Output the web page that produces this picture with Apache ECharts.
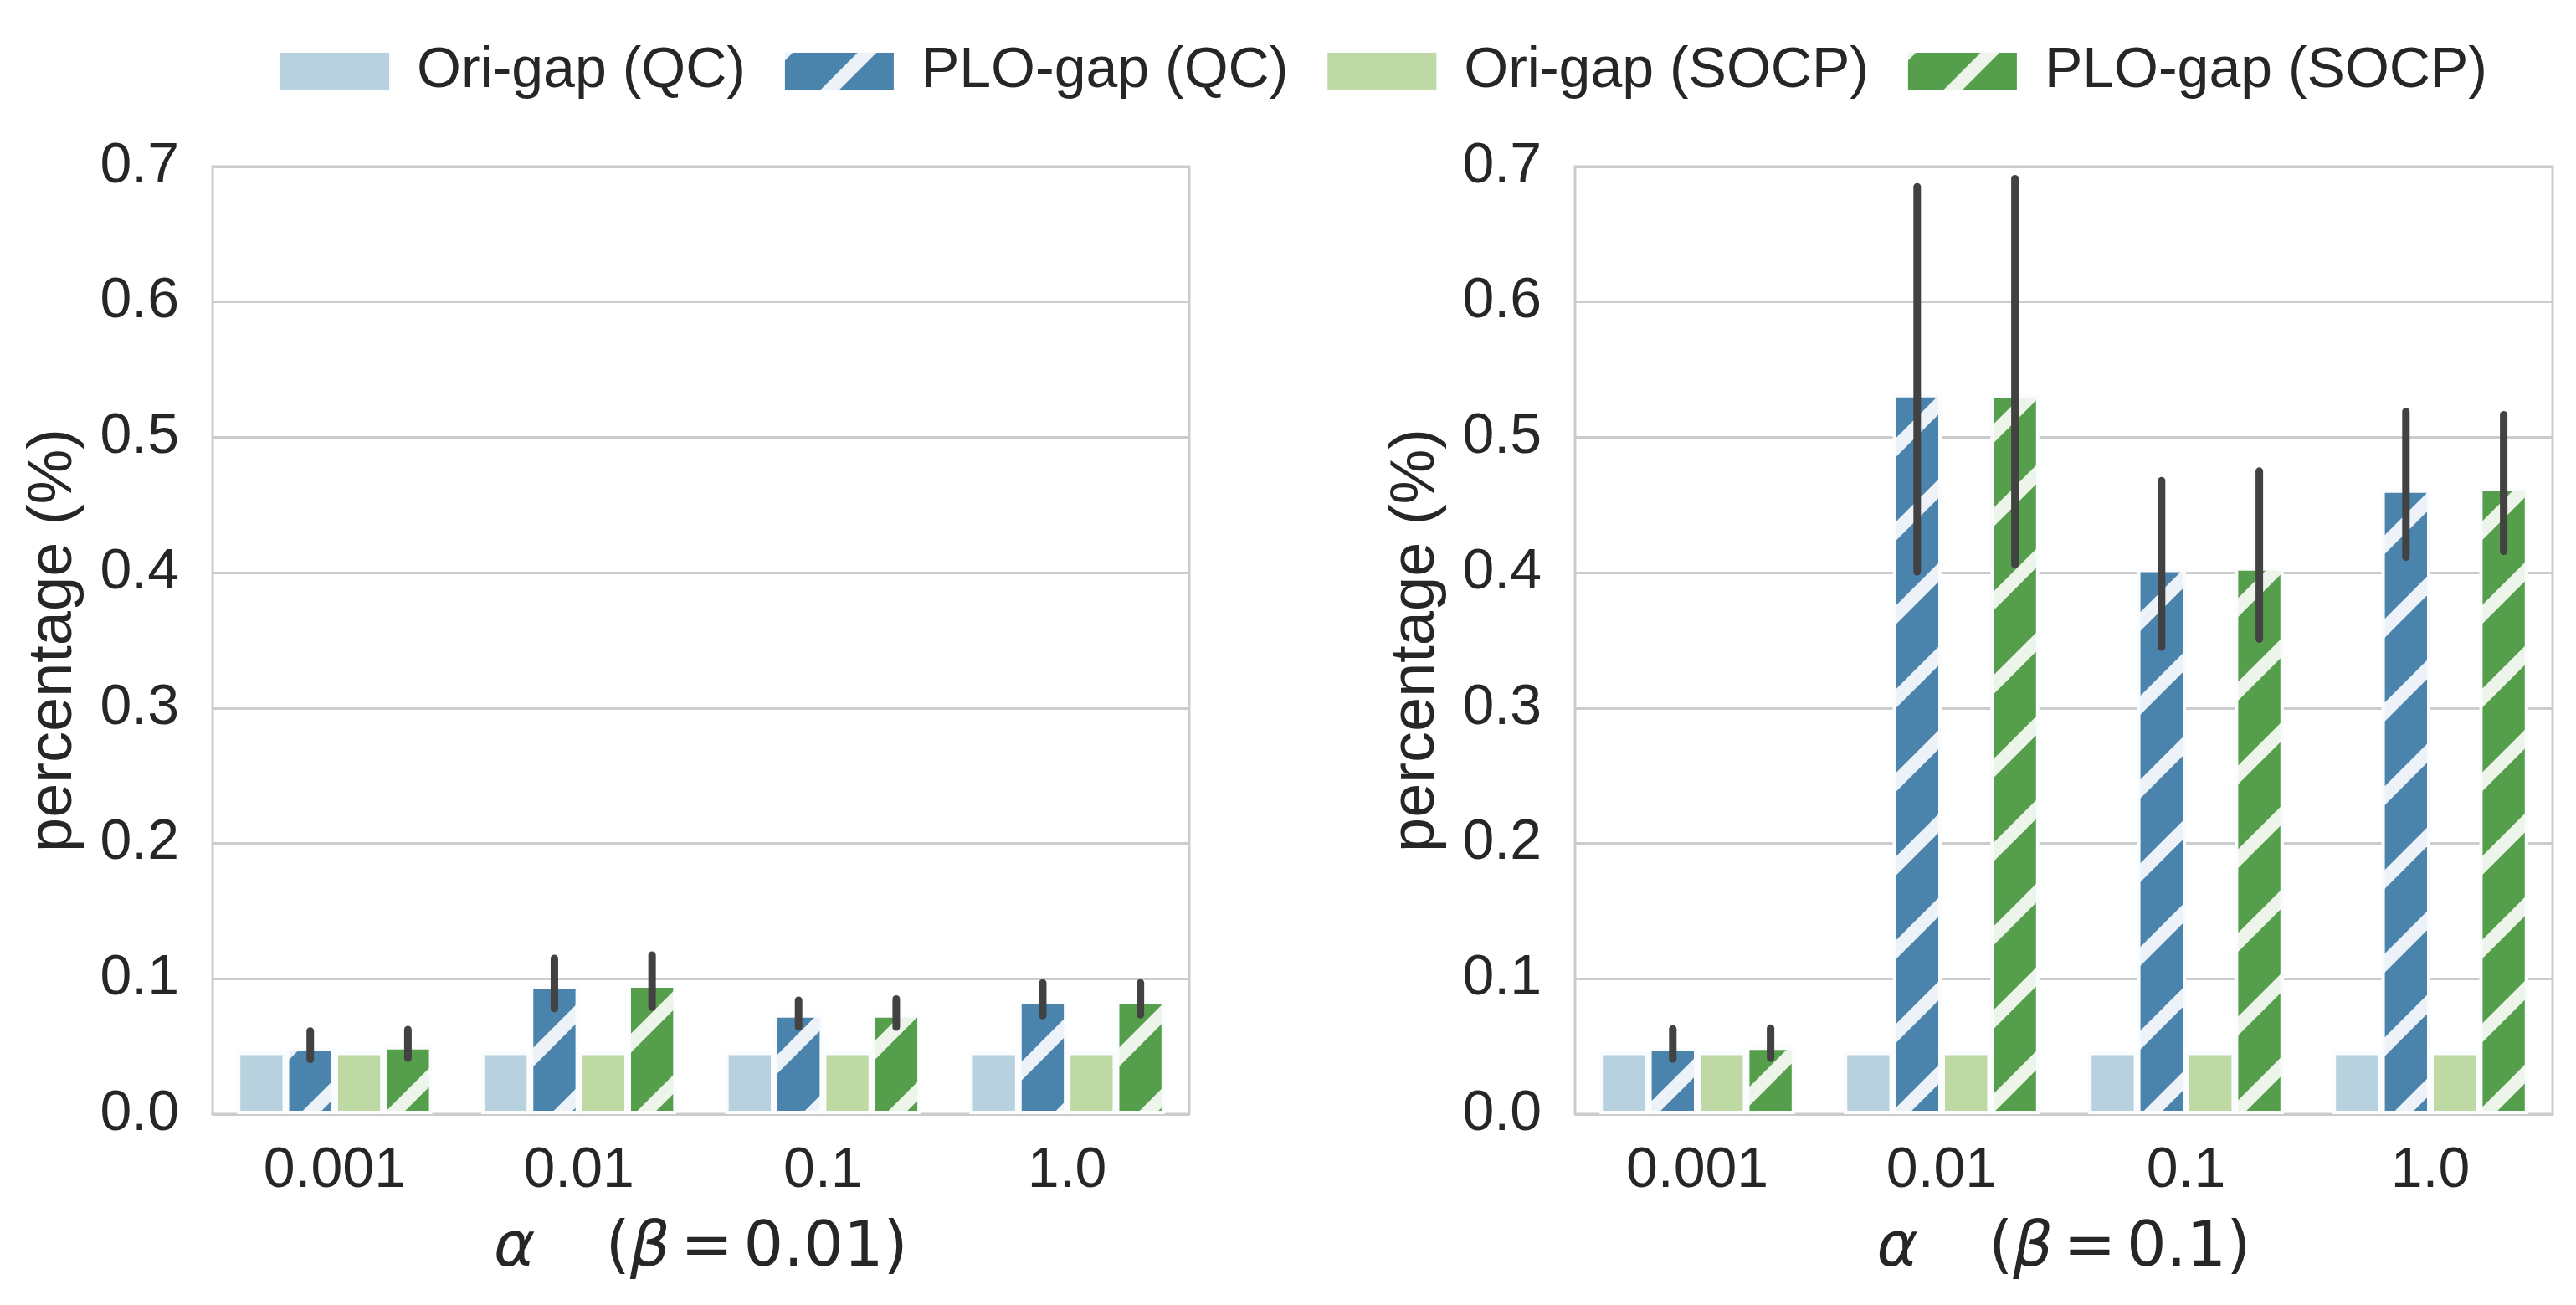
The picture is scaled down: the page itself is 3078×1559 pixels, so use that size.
<!DOCTYPE html>
<html>
<head>
<meta charset="utf-8">
<script src="https://cdn.jsdelivr.net/npm/echarts@6/dist/echarts.min.js"></script>
<style>
html,body{margin:0;padding:0;background:#fff;}
#chart{width:3078px;height:1559px;}
</style>
</head>
<body>
<div id="chart"></div>
<script>
// ---- data ----
const categories = ['0.001', '0.01', '0.1', '1.0'];
const seriesNames = ['Ori-gap (QC)', 'PLO-gap (QC)', 'Ori-gap (SOCP)', 'PLO-gap (SOCP)'];
const yTicks = [0, 0.1, 0.2, 0.3, 0.4, 0.5, 0.6, 0.7];

// beta = 0.01 (left panel)
const oriQC_b001 = [0.046, 0.046, 0.046, 0.046];
const ploQC_b001 = [0.0495, 0.0948, 0.0738, 0.0835];
const oriSOCP_b001 = [0.046, 0.046, 0.046, 0.046];
const ploSOCP_b001 = [0.0503, 0.0959, 0.0738, 0.0841];
const ploQC_err_b001 = [[0.0405, 0.0614], [0.078, 0.115], [0.0645, 0.0841], [0.0728, 0.097]];
const ploSOCP_err_b001 = [[0.0414, 0.0625], [0.079, 0.1175], [0.0643, 0.085], [0.0734, 0.097]];

// beta = 0.1 (right panel)
const oriQC_b01 = [0.046, 0.046, 0.046, 0.046];
const ploQC_b01 = [0.0495, 0.532, 0.4028, 0.4614];
const oriSOCP_b01 = [0.046, 0.046, 0.046, 0.046];
const ploSOCP_b01 = [0.050, 0.5315, 0.404, 0.463];
const ploQC_err_b01 = [[0.0408, 0.0629], [0.4006, 0.685], [0.345, 0.468], [0.4115, 0.519]];
const ploSOCP_err_b01 = [[0.0414, 0.0635], [0.406, 0.691], [0.351, 0.475], [0.4158, 0.5167]];

// ---- styles ----
const TXT = '#262626';
const FONT = "'Liberation Sans', Arial, sans-serif";
const MATH = "'DejaVu Sans', sans-serif";
const GRIDC = '#cccccc';

function makeHatch(bg, fg) {
  const c = document.createElement('canvas');
  c.width = 100; c.height = 100;
  const ctx = c.getContext('2d');
  ctx.fillStyle = bg; ctx.fillRect(0, 0, 100, 100);
  ctx.strokeStyle = fg; ctx.lineWidth = 16;
  for (const k of [0, 100, 200]) {
    ctx.beginPath();
    ctx.moveTo(k + 30, -30);
    ctx.lineTo(-30, k + 30);
    ctx.stroke();
  }
  return { image: c, repeat: 'repeat' };
}
const cOriQC = '#b7d2de';
const cPloQC = makeHatch('#4a84ad', '#ecf2f7');
const cOriSOCP = '#bed9a3';
const cPloSOCP = makeHatch('#559f4c', '#edf5ea');
const colors = [cOriQC, cPloQC, cOriSOCP, cPloSOCP];

const grids = [
  { left: 254, top: 199, width: 1167, height: 1132 },
  { left: 1882, top: 199, width: 1168, height: 1132 }
];

function xAxisFor(idx, betaText) {
  return {
    type: 'category', gridIndex: idx, data: categories,
    axisLine: { show: false }, axisTick: { show: false },
    axisLabel: { fontSize: 68, color: TXT, fontFamily: FONT, margin: 34 },
    name: '{i|α}   \u2006({i|β}\u2006=\u2006' + betaText + ')',
    nameLocation: 'middle', nameGap: 124,
    nameTextStyle: {
      fontSize: 75, color: TXT, fontFamily: MATH,
      rich: { i: { fontSize: 75, fontStyle: 'italic', color: TXT, fontFamily: MATH } }
    }
  };
}
function yAxisFor(idx) {
  return {
    type: 'value', gridIndex: idx, min: 0, max: 0.7, interval: 0.1,
    axisLine: { show: false }, axisTick: { show: false },
    axisLabel: { fontSize: 68, color: TXT, fontFamily: FONT, margin: 40, formatter: v => v.toFixed(1) },
    splitLine: { show: true, lineStyle: { color: GRIDC, width: 3 } },
    name: 'percentage (%)', nameLocation: 'middle', nameGap: 152, nameRotate: 90,
    nameTextStyle: { fontSize: 74, color: TXT, fontFamily: FONT }
  };
}

function barSeries(name, data, idx, color) {
  return {
    name: name, type: 'bar', xAxisIndex: idx, yAxisIndex: idx, data: data,
    barGap: '0%', barCategoryGap: '20%',
    itemStyle: { color: color, borderColor: '#fafcfd', borderWidth: 4 },
    emphasis: { disabled: true }
  };
}
function errSeries(idx, errs, slot) {
  return {
    name: 'err', type: 'custom', xAxisIndex: idx, yAxisIndex: idx, z: 10, clip: false,
    encode: { x: 0, y: [1, 2] },
    data: errs.map((e, i) => [i, e[0], e[1], slot]),
    renderItem: function (params, api) {
      const lo = api.coord([api.value(0), api.value(1)]);
      const hi = api.coord([api.value(0), api.value(2)]);
      const w = api.size([1, 0])[0];
      const x = lo[0] + (api.value(3) - 1.5) * 0.2 * w;
      return {
        type: 'line',
        shape: { x1: x, y1: hi[1], x2: x, y2: lo[1] },
        style: { stroke: '#424242', lineWidth: 9, lineCap: 'round' }
      };
    }
  };
}

const option = {
  backgroundColor: '#ffffff',
  animation: false,
  legend: {
    data: seriesNames, left: 328, top: 46, icon: 'rect',
    itemWidth: 132, itemHeight: 46, itemGap: 45,
    textStyle: { fontSize: 68, color: TXT, fontFamily: FONT, padding: [0, 0, 0, 27] }
  },
  grid: grids.map(g => Object.assign({ show: true, borderColor: GRIDC, borderWidth: 3, backgroundColor: 'transparent' }, g)),
  xAxis: [xAxisFor(0, '0.01'), xAxisFor(1, '0.1')],
  yAxis: [yAxisFor(0), yAxisFor(1)],
  series: [
    barSeries(seriesNames[0], oriQC_b001, 0, colors[0]),
    barSeries(seriesNames[1], ploQC_b001, 0, colors[1]),
    barSeries(seriesNames[2], oriSOCP_b001, 0, colors[2]),
    barSeries(seriesNames[3], ploSOCP_b001, 0, colors[3]),
    barSeries(seriesNames[0], oriQC_b01, 1, colors[0]),
    barSeries(seriesNames[1], ploQC_b01, 1, colors[1]),
    barSeries(seriesNames[2], oriSOCP_b01, 1, colors[2]),
    barSeries(seriesNames[3], ploSOCP_b01, 1, colors[3]),
    errSeries(0, ploQC_err_b001, 1),
    errSeries(0, ploSOCP_err_b001, 3),
    errSeries(1, ploQC_err_b01, 1),
    errSeries(1, ploSOCP_err_b01, 3)
  ]
};

const chart = echarts.init(document.getElementById('chart'), null, { renderer: 'canvas' });
chart.setOption(option);
</script>
</body>
</html>
